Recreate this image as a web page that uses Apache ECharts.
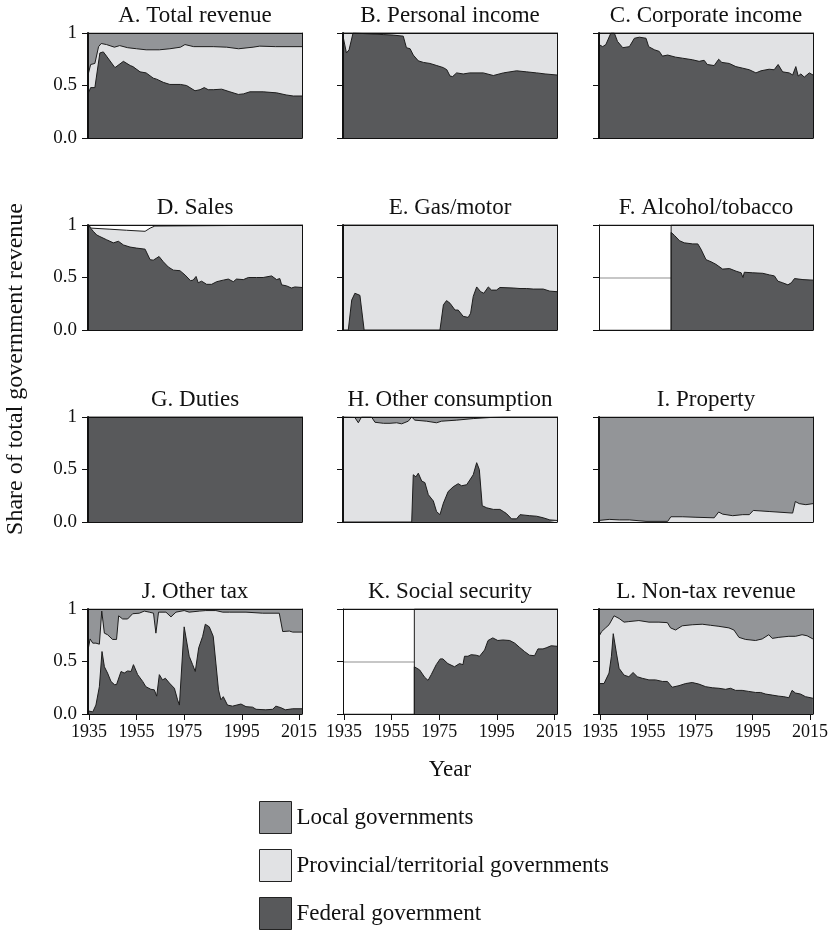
<!DOCTYPE html>
<html>
<head>
<meta charset="utf-8">
<script src="https://cdn.jsdelivr.net/npm/echarts@6/dist/echarts.min.js"></script>
<style>
html,body{margin:0;padding:0;background:#fff;}
#chart{width:831px;height:931px;}
</style>
</head>
<body>
<div id="chart"></div>
<script>
// ---------- data (share of total government revenue; [year, cumulative share]) ----------
const xTickPos = [1935.4, 1953.4, 1971.4, 1993.2, 2014.9];
const xTickLabels = ['1935', '1955', '1975', '1995', '2015'];
const yTickVals = [0, 0.5, 1];
const yTickLabels = ['0.0', '0.5', '1'];
const seriesNames = ['Local governments', 'Provincial/territorial governments', 'Federal government'];
const panelTitles = ['A. Total revenue', 'B. Personal income', 'C. Corporate income',
  'D. Sales', 'E. Gas/motor', 'F. Alcohol/tobacco',
  'G. Duties', 'H. Other consumption', 'I. Property',
  'J. Other tax', 'K. Social security', 'L. Non-tax revenue'];

const localTop = [[1935, 1], [2016, 1]];

const aFed = [[1935,0.42],[1936,0.48],[1937.6,0.48],[1939.5,0.81],[1940.8,0.82],[1942,0.78],[1945.2,0.67],[1948.4,0.73],[1951,0.69],[1952,0.68],[1954.7,0.63],[1957,0.62],[1959.7,0.57],[1961,0.56],[1963.5,0.53],[1966,0.51],[1970,0.51],[1972.3,0.50],[1975.5,0.45],[1977.4,0.46],[1979,0.48],[1980.5,0.46],[1982.4,0.46],[1985.6,0.465],[1988.7,0.44],[1991.9,0.415],[1993.8,0.42],[1996.3,0.44],[2001.3,0.44],[2006.4,0.43],[2010,0.41],[2012.7,0.40],[2016,0.40]];
const aProv = [[1935,0.60],[1936,0.70],[1937.6,0.71],[1939,0.87],[1940,0.90],[1942,0.89],[1945,0.865],[1947,0.88],[1950,0.86],[1953.4,0.85],[1957,0.84],[1962,0.84],[1966,0.85],[1970,0.865],[1971.7,0.89],[1975,0.87],[1982.4,0.87],[1987.5,0.865],[1992,0.85],[1997.5,0.865],[2000,0.875],[2006,0.87],[2016,0.87]];

const bFed = [[1935,0.97],[1936.3,0.81],[1937.3,0.84],[1938.8,1.0],[1950.2,0.985],[1954,0.98],[1957.8,0.97],[1959,0.86],[1960.4,0.85],[1961.6,0.79],[1963.5,0.735],[1965.4,0.72],[1967.9,0.71],[1970.5,0.69],[1973,0.67],[1974.3,0.65],[1975.5,0.59],[1976.5,0.585],[1978,0.62],[1980.5,0.61],[1983,0.62],[1988.1,0.62],[1991.9,0.595],[1995.7,0.62],[2000.7,0.64],[2004.5,0.63],[2008.3,0.62],[2011.5,0.61],[2016,0.60]];
const bProv = [[1935,1],[2016,1]];

const cFed = [[1935,0.89],[1936.4,0.87],[1937.6,0.89],[1939.5,1.0],[1940.8,1.0],[1942,0.92],[1944,0.86],[1946.5,0.87],[1948.4,0.95],[1950.3,0.96],[1952.8,0.95],[1953.8,0.87],[1956,0.84],[1957.8,0.825],[1959,0.78],[1961,0.79],[1964,0.77],[1966.6,0.76],[1970.4,0.745],[1972.9,0.73],[1974.8,0.74],[1976,0.70],[1978.6,0.69],[1980.3,0.75],[1981.5,0.72],[1984.3,0.71],[1986.8,0.68],[1989.4,0.665],[1991.9,0.65],[1994.4,0.62],[1996.3,0.64],[1999.4,0.655],[2001.3,0.65],[2002.8,0.70],[2004.5,0.63],[2007,0.62],[2008.3,0.60],[2009.5,0.68],[2010.4,0.59],[2011.4,0.61],[2012.7,0.58],[2014.6,0.62],[2016,0.60]];
const cProv = [[1935,1],[2016,1]];

const dFed = [[1935,1.0],[1937,0.94],[1938.3,0.905],[1939.5,0.89],[1942,0.86],[1944.6,0.83],[1946.5,0.845],[1948.4,0.81],[1950.9,0.79],[1953.4,0.78],[1956.6,0.77],[1958.5,0.67],[1959.7,0.665],[1961.9,0.70],[1963.5,0.65],[1965.4,0.60],[1967.3,0.57],[1969.8,0.565],[1971.7,0.525],[1973.8,0.47],[1974.8,0.475],[1975.9,0.51],[1976.7,0.45],[1978,0.465],[1979.9,0.435],[1981.8,0.435],[1983.7,0.46],[1986.2,0.475],[1988.1,0.485],[1990,0.46],[1991.2,0.485],[1993.8,0.48],[1995.7,0.50],[1998.8,0.50],[2001.3,0.50],[2004.5,0.515],[2006.4,0.48],[2007.6,0.49],[2008.3,0.43],[2010.2,0.42],[2012,0.40],[2013.3,0.41],[2016,0.405]];
const dProv = [[1935,1.0],[1936.4,0.97],[1943.3,0.96],[1949.6,0.95],[1956.6,0.94],[1958.5,0.97],[1960.3,0.99],[1961,1.0],[2016,1.0]];

const eFed = [[1935,0],[1937,0],[1938.3,0.285],[1939.5,0.35],[1941.4,0.33],[1942,0.33],[1943,0],[1971.7,0],[1973,0.24],[1974.2,0.28],[1975.5,0.255],[1977.4,0.19],[1978.6,0.19],[1980.5,0.13],[1982.4,0.12],[1983.3,0.16],[1984.3,0.32],[1985.6,0.41],[1987.1,0.365],[1988.3,0.35],[1990,0.41],[1991.2,0.38],[1993.1,0.38],[1994.4,0.405],[1999.4,0.40],[2002,0.395],[2004.5,0.395],[2007,0.39],[2010.8,0.39],[2013.3,0.37],[2016,0.365]];
const eProv = [[1935,1],[2016,1]];

const fFed = [[1962.3,0],[1962.3,0.93],[1963.6,0.90],[1965.5,0.85],[1967.3,0.83],[1970.5,0.82],[1972.4,0.82],[1973.6,0.77],[1975.5,0.67],[1977.4,0.65],[1979.3,0.625],[1981.8,0.58],[1984.4,0.585],[1986.9,0.56],[1988.8,0.545],[1989.5,0.50],[1990,0.55],[1993.2,0.545],[1997,0.54],[1999.5,0.525],[2001.4,0.515],[2002.7,0.465],[2004.5,0.45],[2006.5,0.43],[2007.8,0.45],[2009,0.49],[2012.2,0.48],[2016,0.475]];
const fProv = [[1962.3,0],[1962.3,1],[2016,1]];

const gFed = [[1935,1],[2016,1]];

const hFed = [[1935,0],[1961,0],[1961.6,0.45],[1962.6,0.43],[1963.5,0.465],[1964.8,0.39],[1966,0.375],[1967.3,0.26],[1969.2,0.20],[1970.4,0.10],[1971.7,0.07],[1973,0.18],[1974.8,0.29],[1976.7,0.335],[1978.6,0.365],[1979.9,0.345],[1981.8,0.355],[1983,0.40],[1984.3,0.45],[1985.6,0.565],[1986.6,0.50],[1987.7,0.155],[1989.4,0.135],[1991.9,0.12],[1994.4,0.12],[1995.7,0.10],[1996.9,0.08],[1998.8,0.03],[2000.7,0.03],[2002,0.07],[2005.7,0.06],[2008.3,0.055],[2010.8,0.04],[2013.3,0.02],[2016,0.015]];
const hProv = [[1935,1.0],[1939.5,0.995],[1940.8,0.945],[1942,1.0],[1945.8,1.0],[1947.1,0.95],[1950.3,0.94],[1952.8,0.94],[1955.3,0.945],[1957.2,0.935],[1959.7,0.96],[1961,1.0],[1962.2,0.97],[1966.6,0.96],[1970.4,0.945],[1972.3,0.96],[1978,0.97],[1984.3,0.985],[1990.6,0.995],[1995.7,1.0],[2016,1.0]];

const iProv = [[1935,0.015],[1938.9,0.025],[1942.7,0.02],[1946.5,0.02],[1952.8,0.006],[1961,0.006],[1962.2,0.05],[1966.7,0.05],[1971.7,0.045],[1978.6,0.04],[1980.3,0.095],[1981.8,0.075],[1985.6,0.06],[1989.4,0.07],[1991.9,0.07],[1993.4,0.11],[1999.4,0.10],[2008.3,0.085],[2009.3,0.195],[2010.8,0.175],[2013.3,0.165],[2016,0.175]];

const jFed = [[1935,0.03],[1936.8,0.02],[1938,0.085],[1939.3,0.26],[1940.3,0.595],[1941.2,0.45],[1942.4,0.39],[1943.7,0.31],[1945,0.28],[1945.8,0.28],[1947.5,0.405],[1948.7,0.39],[1950,0.41],[1951.3,0.405],[1952.2,0.47],[1953.8,0.375],[1955.7,0.31],[1956.9,0.26],[1958.8,0.235],[1960.1,0.23],[1961,0.17],[1962,0.375],[1963.2,0.325],[1964.3,0.34],[1965.8,0.295],[1967.7,0.245],[1968.9,0.135],[1969.6,0.085],[1971.4,0.83],[1973.3,0.55],[1974.6,0.47],[1975.6,0.405],[1976.9,0.63],[1978.4,0.74],[1979.4,0.855],[1980.9,0.83],[1982.4,0.74],[1983.4,0.485],[1984.4,0.23],[1985.3,0.135],[1986.2,0.165],[1987.8,0.085],[1989.7,0.075],[1992.9,0.095],[1994.8,0.07],[1997.3,0.065],[1998.6,0.045],[2002.3,0.04],[2004.9,0.045],[2006.1,0.075],[2008,0.06],[2009.7,0.04],[2012.5,0.05],[2016,0.05]];
const jProv = [[1935,0.61],[1935.8,0.715],[1936.8,0.675],[1938,0.675],[1939.3,0.665],[1940.2,0.98],[1941.2,0.77],[1942.4,0.755],[1944.3,0.71],[1945.8,0.71],[1946.6,0.935],[1948.1,0.905],[1950,0.905],[1951.9,0.955],[1954.4,0.96],[1956.3,0.98],[1958.2,0.97],[1959.8,0.96],[1960.7,0.77],[1961.7,0.97],[1964.5,0.97],[1966.4,0.925],[1968.3,0.97],[1971.4,0.985],[1973.3,0.97],[1977.1,0.98],[1979.6,0.985],[1983.4,0.985],[1986,0.97],[1988.5,0.97],[1994.8,0.97],[2001.1,0.96],[2007.4,0.96],[2008.7,0.785],[2011.2,0.79],[2012.5,0.78],[2016,0.78]];

const kFed = [[1962,0],[1962,0.45],[1964,0.42],[1965.9,0.35],[1967.2,0.32],[1968.4,0.375],[1970.3,0.47],[1971.8,0.525],[1972.8,0.525],[1974.7,0.48],[1977.2,0.45],[1979.1,0.48],[1980.4,0.47],[1981,0.55],[1982.3,0.55],[1983.5,0.565],[1985.4,0.56],[1986.7,0.55],[1988.6,0.61],[1989.9,0.70],[1991.7,0.725],[1993.6,0.70],[1995.5,0.705],[1998.1,0.70],[2000,0.675],[2001.8,0.635],[2003.7,0.595],[2005.6,0.56],[2007.5,0.555],[2008.8,0.62],[2010.7,0.62],[2011.9,0.63],[2013.8,0.65],[2016,0.645]];
const kProv = [[1962,0],[1962,1],[2016,1]];

const lFed = [[1935,0.29],[1936.9,0.29],[1938.8,0.39],[1939.7,0.55],[1940.4,0.765],[1941.6,0.58],[1942.6,0.435],[1944.5,0.37],[1946.3,0.355],[1947.9,0.395],[1949.5,0.355],[1951.4,0.34],[1953.9,0.325],[1956.4,0.325],[1959,0.31],[1960.9,0.31],[1962.7,0.255],[1965.3,0.27],[1967.8,0.29],[1970.3,0.30],[1972.8,0.285],[1975.4,0.26],[1977.9,0.25],[1980.4,0.245],[1982.9,0.235],[1984.8,0.245],[1986.7,0.225],[1989.2,0.225],[1991.7,0.215],[1994.3,0.205],[1996.2,0.205],[1998.1,0.19],[2000.6,0.18],[2003.1,0.17],[2005,0.165],[2006.9,0.155],[2008.1,0.225],[2009.4,0.20],[2011.3,0.19],[2013.2,0.165],[2016,0.15]];
const lProv = [[1935,0.74],[1936,0.785],[1937.5,0.82],[1938.8,0.85],[1940.7,0.935],[1942.6,0.91],[1944.5,0.875],[1946.3,0.88],[1950.1,0.89],[1953.9,0.875],[1957.7,0.875],[1960.9,0.87],[1962.1,0.82],[1964,0.80],[1966.5,0.84],[1970.3,0.85],[1974.1,0.855],[1977.2,0.845],[1980.4,0.835],[1984.2,0.82],[1986.1,0.80],[1988,0.73],[1990.5,0.71],[1994.3,0.70],[1996.8,0.715],[1999.3,0.755],[2000.6,0.72],[2003.1,0.73],[2006.9,0.74],[2009.4,0.74],[2011.9,0.755],[2013.8,0.745],[2016,0.715]];

const panelData = [
  {local: localTop, prov: aProv, fed: aFed},
  {local: null, prov: bProv, fed: bFed},
  {local: null, prov: cProv, fed: cFed},
  {local: null, prov: dProv, fed: dFed},
  {local: null, prov: eProv, fed: eFed},
  {local: null, prov: fProv, fed: fFed},
  {local: null, prov: null, fed: gFed},
  {local: localTop, prov: hProv, fed: hFed},
  {local: localTop, prov: iProv, fed: null},
  {local: localTop, prov: jProv, fed: jFed},
  {local: null, prov: kProv, fed: kFed},
  {local: localTop, prov: lProv, fed: lFed}
];

// ---------- styles / layout ----------
const FONT = '"Liberation Serif", "DejaVu Serif", serif';
const C_LOCAL = '#939598', C_PROV = '#e1e2e4', C_FED = '#58595b', C_LINE = '#1d1d1d';
const colLeft = [88, 343, 599], plotW = 214;
const rowTop = [33, 225, 417, 609], plotH = 105;

const grids = [], xAxes = [], yAxes = [], series = [], graphics = [];

panelData.forEach((p, i) => {
  const r = Math.floor(i / 3), c = i % 3;
  grids.push({left: colLeft[c], top: rowTop[r], width: plotW, height: plotH, containLabel: false});
  const startsLate = (i === 5 || i === 10);
  const frameLine = {show: true, onZero: false, lineStyle: {color: '#111', width: 1}};
  xAxes.push({
    gridIndex: i, type: 'value', min: 1935, max: 2016, position: 'bottom', z: 10,
    axisLine: frameLine,
    axisTick: {show: r === 3, customValues: xTickPos, length: 6, lineStyle: {color: '#111'}},
    axisLabel: {show: r === 3, customValues: xTickPos, margin: 9,
      formatter: v => xTickLabels[xTickPos.indexOf(v)] ?? '',
      fontFamily: FONT, fontSize: 18, color: '#111'},
    splitLine: {show: false}
  });
  xAxes.push({
    gridIndex: i, type: 'value', min: 1935, max: 2016, position: 'top', z: 10,
    axisLine: frameLine, axisTick: {show: false}, axisLabel: {show: false}, splitLine: {show: false}
  });
  yAxes.push({
    gridIndex: i, type: 'value', min: 0, max: 1, interval: 0.5, position: 'left', z: 0,
    axisLine: {show: false}, axisTick: {show: false}, axisLabel: {show: false},
    splitLine: {show: true, lineStyle: {color: '#b4b4b4', width: 1.5}}
  });
  yAxes.push({
    gridIndex: i, type: 'value', min: 0, max: 1, interval: 0.5, position: 'left', z: 10,
    axisLine: {show: true, onZero: false, lineStyle: {color: '#111', width: startsLate ? 1 : 2}},
    axisTick: {show: true, length: 6, lineStyle: {color: '#111'}},
    axisLabel: {show: c === 0, margin: 11, fontFamily: FONT, fontSize: 19, color: '#111',
      formatter: v => yTickLabels[yTickVals.indexOf(v)] ?? ''},
    splitLine: {show: false}
  });
  yAxes.push({
    gridIndex: i, type: 'value', min: 0, max: 1, position: 'right', z: 10,
    axisLine: frameLine, axisTick: {show: false}, axisLabel: {show: false}, splitLine: {show: false}
  });
  const base = {type: 'line', xAxisIndex: 2 * i, yAxisIndex: 3 * i, symbol: 'none', showSymbol: false,
    smooth: false, animation: false, silent: true, clip: true};
  if (p.local) series.push(Object.assign({}, base, {name: seriesNames[0], data: p.local,
    lineStyle: {width: 0, color: C_LOCAL}, itemStyle: {color: C_LOCAL}, areaStyle: {color: C_LOCAL, opacity: 1}}));
  if (p.prov) series.push(Object.assign({}, base, {name: seriesNames[1], data: p.prov,
    lineStyle: {width: 1, color: C_LINE}, itemStyle: {color: C_PROV}, areaStyle: {color: C_PROV, opacity: 1}}));
  if (p.fed) series.push(Object.assign({}, base, {name: seriesNames[2], data: p.fed,
    lineStyle: {width: 1, color: C_LINE}, itemStyle: {color: C_FED}, areaStyle: {color: C_FED, opacity: 1}}));

  graphics.push({type: 'text', x: colLeft[c] + plotW / 2, y: rowTop[r] - 17, silent: true,
    style: {text: panelTitles[i], fill: '#111', fontFamily: FONT, fontSize: 23, align: 'center', verticalAlign: 'middle'}});
});

graphics.push({type: 'text', x: colLeft[1] + plotW / 2, y: 770, silent: true,
  style: {text: 'Year', fill: '#111', fontFamily: FONT, fontSize: 23, align: 'center', verticalAlign: 'middle'}});
graphics.push({type: 'text', x: 16, y: 369, rotation: Math.PI / 2, silent: true,
  style: {text: 'Share of total government revenue', fill: '#111', fontFamily: FONT, fontSize: 24, align: 'center', verticalAlign: 'middle'}});

const legendTops = [801, 849, 897];
const legends = seriesNames.map((nm, k) => ({
  data: [nm], orient: 'vertical', left: 259, top: legendTops[k], padding: 0,
  itemWidth: 32, itemHeight: 32, icon: 'rect', selectedMode: false,
  itemStyle: {borderColor: '#222', borderWidth: 1},
  lineStyle: {width: 0},
  textStyle: {fontFamily: FONT, fontSize: 23, color: '#111'}
}));

const chart = echarts.init(document.getElementById('chart'), null, {renderer: 'canvas'});
chart.setOption({
  animation: false,
  backgroundColor: '#fff',
  grid: grids,
  xAxis: xAxes,
  yAxis: yAxes,
  series: series,
  legend: legends,
  graphic: graphics
});
</script>
</body>
</html>
